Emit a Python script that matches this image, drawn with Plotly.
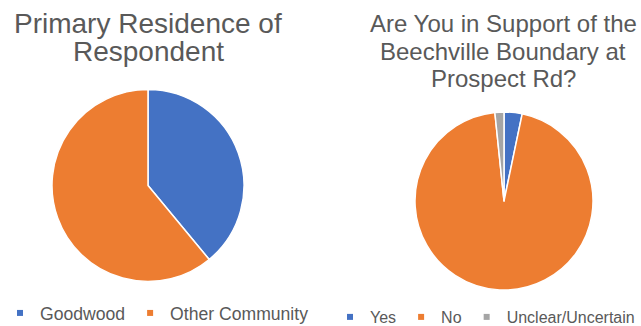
import plotly.graph_objects as go

# ---- data ----
res_labels = ["Goodwood", "Other Community"]
res_values = [39, 61]
sup_labels = ["Yes", "No", "Unclear/Uncertain"]
sup_values = [2, 58, 1]
res_colors = ["#4472C4", "#ED7D31"]
sup_colors = ["#4472C4", "#ED7D31", "#A5A5A5"]
title_left = ["Primary Residence of", "Respondent"]
title_right = ["Are You in Support of the", "Beechville Boundary at", "Prospect Rd?"]

W, H = 641, 326
TXT = "#595959"
FONT = "Liberation Sans, Arial, sans-serif"

def py(p):
    return 1 - p / H

def px(p):
    return p / W

fig = go.Figure()

# left pie: center (148,185.5) r=96
cx, cy, r = 148, 185.5, 96
fig.add_trace(go.Pie(
    labels=res_labels, values=res_values, sort=False, direction="clockwise",
    rotation=0, marker=dict(colors=res_colors, line=dict(color="white", width=1.5)),
    textinfo="none", showlegend=False, hoverinfo="label+percent",
    domain=dict(x=[px(cx - r), px(cx + r)], y=[py(cy + r), py(cy - r)]),
))
# right pie: center (504,201) r=89
cx, cy, r = 504, 201, 89
fig.add_trace(go.Pie(
    labels=sup_labels, values=sup_values, sort=False, direction="clockwise",
    rotation=0, marker=dict(colors=sup_colors, line=dict(color="white", width=1.5)),
    textinfo="none", showlegend=False, hoverinfo="label+percent",
    domain=dict(x=[px(cx - r), px(cx + r)], y=[py(cy + r), py(cy - r)]),
))

# legend proxies
for lab, col in zip(res_labels, res_colors):
    fig.add_trace(go.Scatter(x=[None], y=[None], mode="markers", name=lab,
                             marker=dict(symbol="square", size=6, color=col),
                             legend="legend", showlegend=True))
for lab, col in zip(sup_labels, sup_colors):
    fig.add_trace(go.Scatter(x=[None], y=[None], mode="markers", name=lab,
                             marker=dict(symbol="square", size=6, color=col),
                             legend="legend2", showlegend=True))

annotations = []
for i, t in enumerate(title_left):
    annotations.append(dict(text=t, x=px(148), y=py(23.5 + 28.4 * i), xref="paper", yref="paper",
                            xanchor="center", yanchor="middle", showarrow=False,
                            font=dict(size=28, color=TXT, family=FONT)))
for i, t in enumerate(title_right):
    annotations.append(dict(text=t, x=px(503), y=py(23.9 + 27.5 * i), xref="paper", yref="paper",
                            xanchor="center", yanchor="middle", showarrow=False,
                            font=dict(size=24, color=TXT, family=FONT)))

fig.update_layout(
    width=W, height=H, margin=dict(l=0, r=0, t=0, b=0, autoexpand=False),
    paper_bgcolor="white", plot_bgcolor="white",
    xaxis=dict(visible=False), yaxis=dict(visible=False),
    annotations=annotations,
    legend=dict(orientation="h", x=0, y=py(313), xanchor="left", yanchor="middle",
                xref="container", yref="container",
                font=dict(size=17.6, color=TXT, family=FONT), bgcolor="rgba(0,0,0,0)",
                itemwidth=30),
    legend2=dict(orientation="h", x=px(330), y=py(317), xanchor="left", yanchor="middle",
                 xref="container", yref="container",
                 font=dict(size=16, color=TXT, family=FONT), bgcolor="rgba(0,0,0,0)",
                 itemwidth=30),
)

fig.write_html("out.html", config={"displayModeBar": False},
               post_script="document.body.style.margin='0';document.body.style.overflow='hidden';")
